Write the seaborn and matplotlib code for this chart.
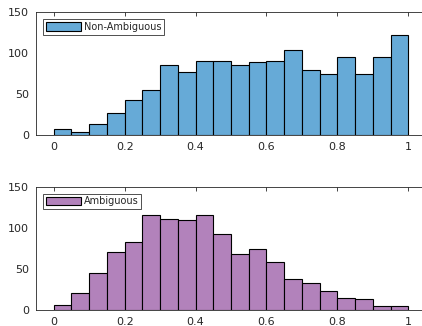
import numpy as np
import pandas as pd
import matplotlib
matplotlib.use('Agg')
import matplotlib.pyplot as plt
import seaborn as sns

# bin edges and counts (20 bins over 0..1)
bin_edges = np.linspace(0, 1, 21)
bin_centers = (bin_edges[:-1] + bin_edges[1:]) / 2

non_ambiguous = [7, 4, 14, 27, 43, 55, 86, 77, 90, 91,
                 85, 89, 90, 104, 79, 74, 95, 75, 95, 122]
ambiguous = [6, 21, 45, 70, 83, 116, 111, 110, 116, 93,
             68, 74, 59, 38, 33, 23, 14, 13, 5, 5]

labels = ['Non-Ambiguous', 'Ambiguous']
colors = ['#66AAD7', '#B282BB']
x_ticks = [0, 0.2, 0.4, 0.6, 0.8, 1]
x_tick_labels = ['0', '0.2', '0.4', '0.6', '0.8', '1']
y_ticks = [0, 50, 100, 150]

sns.set_style('white')
plt.rcParams['font.family'] = ['DejaVu Sans']

fig = plt.figure(figsize=(4.22, 3.26), dpi=100)
W, H = 422, 326
# axes boxes in pixels: left, top, right, bottom
boxes = [(36, 12.3, 426, 135), (36, 186.7, 426, 310)]

for counts, label, color, (l, t, r, b) in zip([non_ambiguous, ambiguous], labels, colors, boxes):
    ax = fig.add_axes([l / W, 1 - b / H, (r - l) / W, (b - t) / H])
    df = pd.DataFrame({'score': bin_centers, 'count': counts})
    sns.histplot(data=df, x='score', weights='count', bins=list(bin_edges), color=color,
                 alpha=1, edgecolor='black', linewidth=0.8, label=label, ax=ax)
    ax.set_xlim(-0.05, 1.05)
    ax.set_ylim(0, 150)
    ax.set_xticks(x_ticks)
    ax.set_xticklabels(x_tick_labels)
    ax.set_yticks(y_ticks)
    ax.set_xlabel('')
    ax.set_ylabel('')
    ax.tick_params(direction='in', length=3, width=0.6, colors='#262626',
                   labelsize=8, top=True, right=False, pad=5)
    ax.spines['right'].set_visible(False)
    for s in ax.spines.values():
        s.set_color('#262626')
        s.set_linewidth(0.6)
    leg = ax.legend(loc='upper left', fontsize=7, frameon=True, fancybox=False,
                    handlelength=3.6, handleheight=0.95, handletextpad=0.3,
                    borderpad=0.3, borderaxespad=0.7)
    leg.get_frame().set_edgecolor('black')
    leg.get_frame().set_linewidth(0.6)

fig.savefig('out.png', dpi=100)
